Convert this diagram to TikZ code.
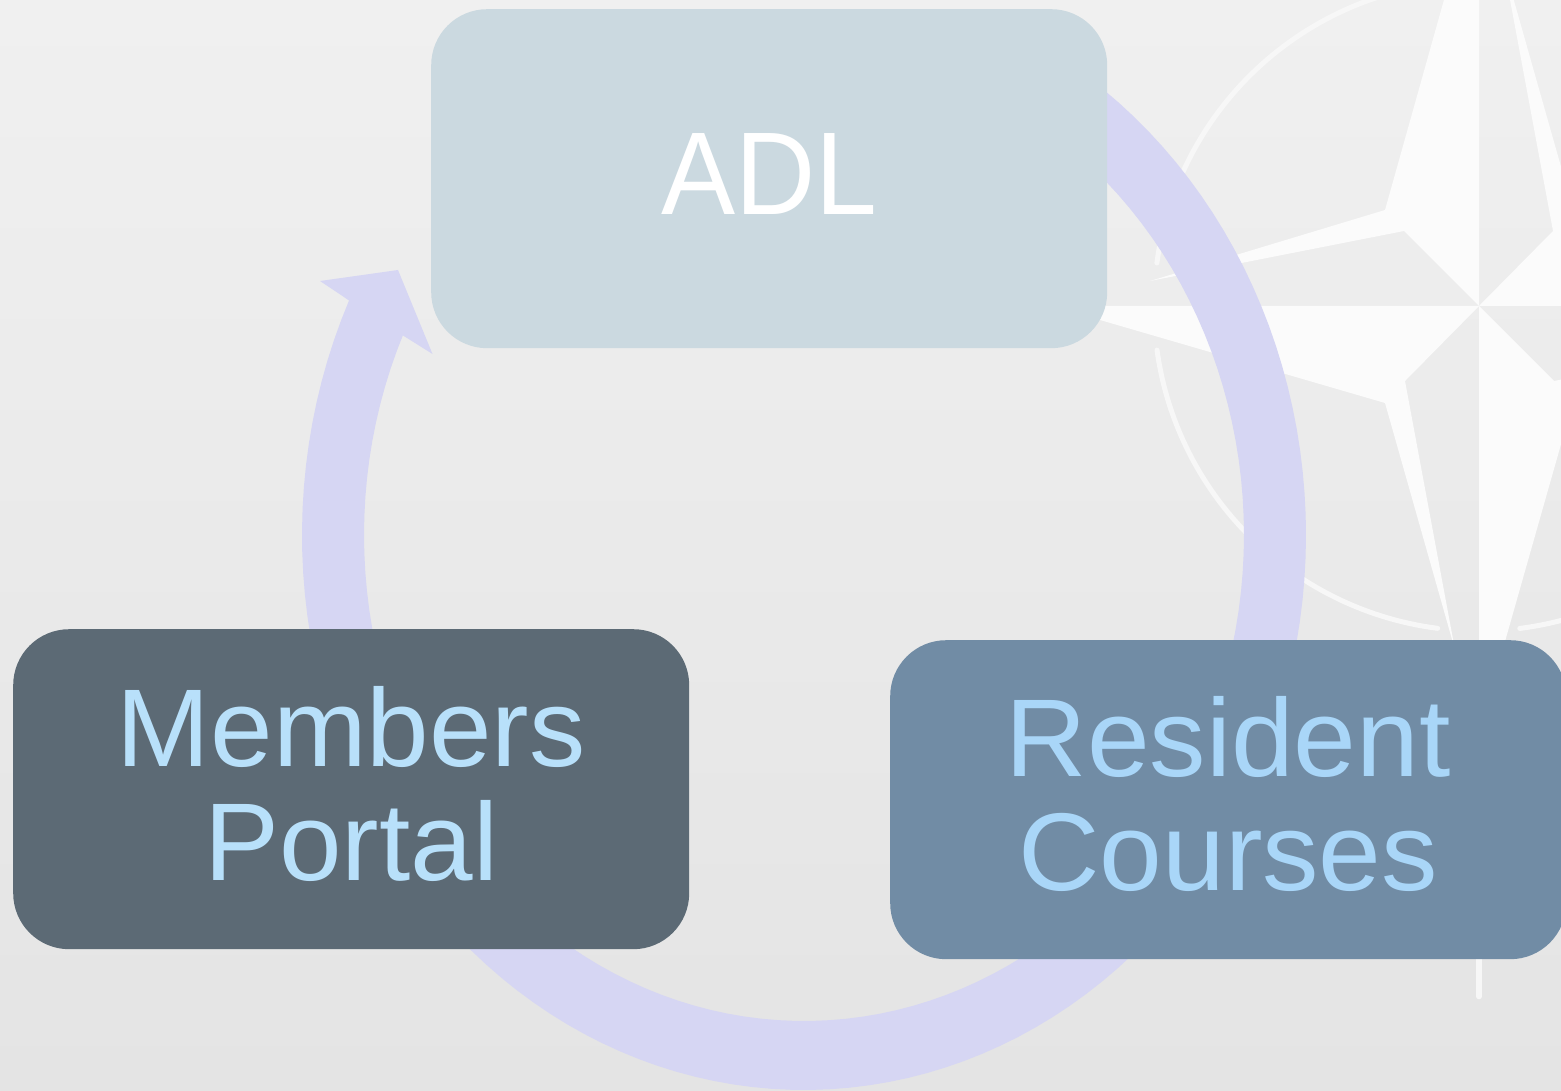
\documentclass[tikz,border=0pt]{standalone}
\usepackage{fontspec}
\setmainfont{Liberation Sans}
\usepackage{graphicx}
\definecolor{bgtop}{HTML}{F0F0F0}
\definecolor{bgbot}{HTML}{E4E4E4}
\definecolor{starlit}{HTML}{FBFBFB}
\definecolor{ringc}{HTML}{F7F7F7}
\definecolor{cyclec}{HTML}{D6D6F3}
\definecolor{adlc}{HTML}{CBD9E0}
\definecolor{memc}{HTML}{5C6A75}
\definecolor{resc}{HTML}{718CA5}
\definecolor{memtext}{HTML}{B8E0FA}
\definecolor{restext}{HTML}{A9D6F8}
\newcommand\bigtext[4]{\raisebox{#1}[0pt][0pt]{\scalebox{#2}[#3]{\fontsize{110}{113.4}\selectfont\begin{tabular}{@{}c@{}}#4\end{tabular}}}}
\tikzset{
  box/.style={rectangle,rounded corners=56pt,inner sep=0pt,anchor=north west,draw=none},
  starpart/.style={fill=starlit,draw=none},
  ringarc/.style={draw=ringc,line width=5pt,line cap=round},
  cyclearrow/.style={fill=cyclec,draw=none}
}
\begin{document}
\begin{tikzpicture}[x=1pt,y=-1pt]
\useasboundingbox (0,0) rectangle (1561,1091);
\clip (0,0) rectangle (1561,1091);
\shade[top color=bgtop,bottom color=bgbot] (0,0) rectangle (1561,1091);
% star
\coordinate (c) at (1479,306);
\fill[starpart] (c) -- (1479,-125) -- (1385,210) -- (1150,281) -- (1404,231) -- cycle;
\fill[starpart] (c) -- (1052,306) -- (1385,403) -- (1455,650) -- (1405,381) -- cycle;
\fill[starpart] (c) -- (1479,733) -- (1573,402) -- (1808,331) -- (1554,381) -- cycle;
\fill[starpart] (c) -- (1906,306) -- (1573,209) -- (1503,-38) -- (1553,231) -- cycle;
% ring
\draw[ringarc] plot[domain=187.6:262,samples=60] ({1479+325*cos(\x)},{306+325*sin(\x)});
\draw[ringarc] plot[domain=172.2:97.3,samples=60] ({1479+325*cos(\x)},{306+325*sin(\x)});
\draw[ringarc] plot[domain=82.8:60,samples=30] ({1479+325*cos(\x)},{306+325*sin(\x)});
\coordinate (tickA) at (1479,940);
\coordinate (tickB) at (1479,996.5);
\draw[draw=ringc,line width=5.5pt,line cap=round] (tickA) -- (tickB);
% cycle arrow
\fill[cyclearrow]
  plot[domain=-60:205,samples=120] ({804+502*cos(\x)},{535+555*sin(\x)})
  -- (320,281) -- (398,270) -- (432.5,354) -- (403,335.5)
  -- plot[domain=204.5:-60,samples=120] ({804+440*cos(\x)},{535+486*sin(\x)})
  -- cycle;
% boxes
\node[box,fill=adlc,minimum width=676pt,minimum height=339pt,text=white] (adl) at (431,9) {\bigtext{-17.7pt}{1.01}{1.07}{ADL}};
\node[box,fill=memc,minimum width=676pt,minimum height=320pt,text=memtext] (members) at (13,629) {\bigtext{-17.7pt}{1.022}{1.005}{Members\\Portal}};
\node[box,fill=resc,minimum width=676pt,minimum height=319pt,text=restext] (resident) at (890,640) {\bigtext{-17.2pt}{1.025}{1.005}{Resident\\Courses}};
\end{tikzpicture}
\end{document}
